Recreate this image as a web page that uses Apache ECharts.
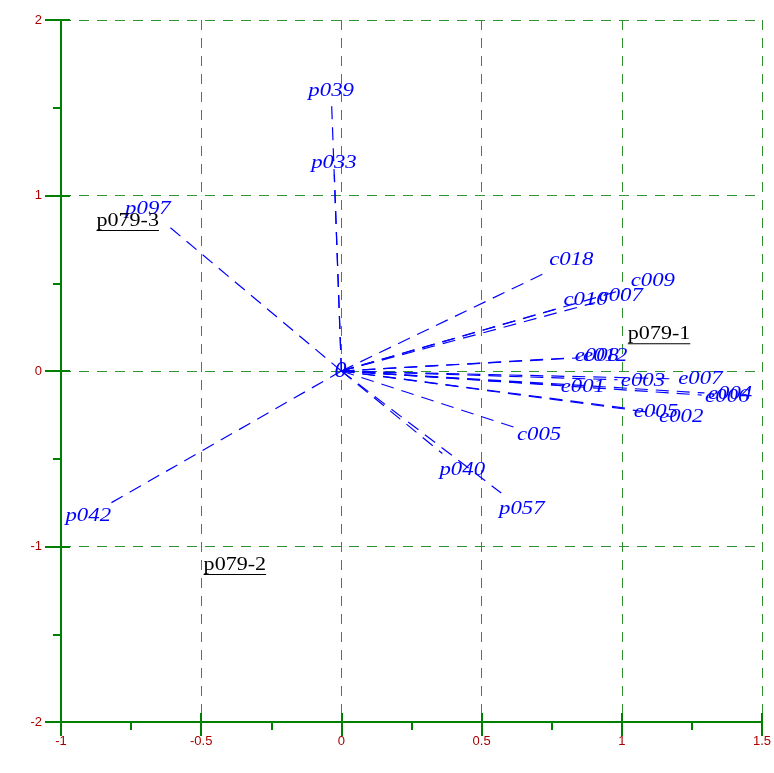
<!DOCTYPE html>
<html>
<head>
<meta charset="utf-8">
<script src="https://cdn.jsdelivr.net/npm/echarts@6/dist/echarts.min.js"></script>
<style>
html,body{margin:0;padding:0;background:#fff;}
#chart{width:774px;height:773px;}
</style>
</head>
<body>
<div id="chart"></div>
<script>
// vectors (tips)
const vecNames = ['p039','p033','p097','p042','c018','c009','c007','c010','e008','e012','e001','e003','e007','e004','e006','e005','e002','c005','p040','p057'];
const vecX = [-0.035,-0.025,-0.62,-0.82,0.735,1.02,0.905,0.78,0.82,0.85,0.77,0.985,1.19,1.295,1.285,1.03,1.12,0.615,0.36,0.57];
const vecY = [1.53,1.12,0.83,-0.75,0.565,0.47,0.39,0.36,0.075,0.075,-0.08,-0.05,-0.045,-0.125,-0.137,-0.215,-0.24,-0.32,-0.47,-0.695];

// environment labels (black, underlined)
const envNames = ['p079-1','p079-2','p079-3'];
const envX = [1.133,-0.38,-0.762];
const envY = [0.21,-1.105,0.855];

// origin label
const originLabel = ['0'];
const originX = [0];
const originY = [0];

// axis ticks
const xTicks = [-1,-0.5,0,0.5,1,1.5];
const yTicks = [-2,-1,0,1,2];

const BLUE = '#0000ff';
const GREEN = '#008000';
const GRIDC = '#2f922f';
const LABELC = '#aa0000';

const measureCtx = document.createElement('canvas').getContext('2d');
function textW(t, font){ measureCtx.font = font; return measureCtx.measureText(t).width; }

const chart = echarts.init(document.getElementById('chart'), null, {renderer:'canvas'});

const tickStyle = {color: GREEN, width: 2};
const gridLine = {show:true, lineStyle:{color:GRIDC, width:1, type:[10,8]}};
function mainX(){
  return {
    type:'value', min:xTicks[0], max:xTicks[xTicks.length-1], interval:0.5, position:'bottom',
    axisLine:{show:true, onZero:false, lineStyle:{color:GREEN, width:2}},
    axisTick:{show:true, length:14, lineStyle:tickStyle},
    minorTick:{show:true, splitNumber:2, length:8, lineStyle:tickStyle},
    axisLabel:{color:LABELC, fontSize:13, fontFamily:'Liberation Sans', margin:13},
    splitLine:gridLine
  };
}
function innerX(){
  return {
    type:'value', min:xTicks[0], max:xTicks[xTicks.length-1], interval:0.5, position:'bottom',
    axisLine:{show:true, onZero:false, lineStyle:{color:GREEN, width:2}},
    axisTick:{show:true, inside:true, length:9, lineStyle:tickStyle},
    axisLabel:{show:false}, splitLine:{show:false}
  };
}
function mainY(){
  return {
    type:'value', min:yTicks[0], max:yTicks[yTicks.length-1], interval:1, position:'left',
    axisLine:{show:true, onZero:false, lineStyle:{color:GREEN, width:2}},
    axisTick:{show:true, length:16, lineStyle:tickStyle},
    minorTick:{show:true, splitNumber:2, length:8, lineStyle:tickStyle},
    axisLabel:{color:LABELC, fontSize:13, fontFamily:'Liberation Sans', margin:19},
    splitLine:gridLine
  };
}
function innerY(){
  return {
    type:'value', min:yTicks[0], max:yTicks[yTicks.length-1], interval:1, position:'left',
    axisLine:{show:true, onZero:false, lineStyle:{color:GREEN, width:2}},
    axisTick:{show:true, inside:true, length:9, lineStyle:tickStyle},
    axisLabel:{show:false}, splitLine:{show:false}
  };
}

const FS = 19;
const ITAL_FONT = 'italic ' + FS + 'px "Liberation Serif"';
const REG_FONT = FS + 'px "Liberation Serif"';
const SX_ITAL = 1.2, SX_REG = 1.16;

const option = {
  animation:false,
  backgroundColor:'#ffffff',
  grid:{left:61, right:12, top:20, bottom:51, containLabel:false},
  xAxis:[mainX(), innerX()],
  yAxis:[mainY(), innerY()],
  series:[
    {
      type:'custom', coordinateSystem:'cartesian2d', xAxisIndex:0, yAxisIndex:0, silent:true, clip:false,
      data: vecNames.map((n,i)=>[vecX[i], vecY[i]]),
      encode:{x:0, y:1},
      renderItem:function(params, api){
        const name = vecNames[params.dataIndex];
        const o = api.coord([0,0]);
        const p = api.coord([api.value(0), api.value(1)]);
        const dx = p[0]-o[0], dy = p[1]-o[1];
        const len = Math.sqrt(dx*dx+dy*dy) || 1;
        const ux = dx/len, uy = dy/len;
        const w = textW(name, ITAL_FONT)*SX_ITAL;
        const h = 16;
        const off = Math.abs(ux)*w/2 + Math.abs(uy)*h/2 + 3;
        const cx = p[0]+ux*off, cy = p[1]+uy*off;
        return {
          type:'group',
          children:[
            {type:'line', shape:{x1:o[0], y1:o[1], x2:p[0], y2:p[1]},
             style:{stroke:BLUE, lineWidth:1.2, lineDash:[13,8]}},
            {type:'text', x:cx, y:cy, scaleX:SX_ITAL,
             style:{text:name, fill:BLUE, fontStyle:'italic', fontSize:FS, fontFamily:'Liberation Serif',
                    align:'center', verticalAlign:'middle'}}
          ]
        };
      }
    },
    {
      type:'custom', coordinateSystem:'cartesian2d', xAxisIndex:0, yAxisIndex:0, silent:true, clip:false,
      data: envNames.map((n,i)=>[envX[i], envY[i]]),
      encode:{x:0, y:1},
      renderItem:function(params, api){
        const name = envNames[params.dataIndex];
        const p = api.coord([api.value(0), api.value(1)]);
        const w = textW(name, REG_FONT);
        return {
          type:'group', x:p[0], y:p[1], scaleX:SX_REG,
          children:[
            {type:'text', x:0, y:0,
             style:{text:name, fill:'#000000', fontSize:FS, fontFamily:'Liberation Serif',
                    align:'center', verticalAlign:'middle'}},
            {type:'line', shape:{x1:-w/2, y1:9.5, x2:w/2, y2:9.5},
             style:{stroke:'#000000', lineWidth:1}}
          ]
        };
      }
    },
    {
      type:'custom', coordinateSystem:'cartesian2d', xAxisIndex:0, yAxisIndex:0, silent:true, clip:false,
      data: originLabel.map((n,i)=>[originX[i], originY[i]]),
      encode:{x:0, y:1},
      renderItem:function(params, api){
        const p = api.coord([api.value(0), api.value(1)]);
        return {
          type:'text', x:p[0]-1, y:p[1], 
          style:{text:originLabel[params.dataIndex], fill:BLUE, fontStyle:'italic', fontSize:24,
                 fontFamily:'Liberation Serif', align:'center', verticalAlign:'middle'}
        };
      }
    }
  ]
};
chart.setOption(option);
</script>
</body>
</html>
